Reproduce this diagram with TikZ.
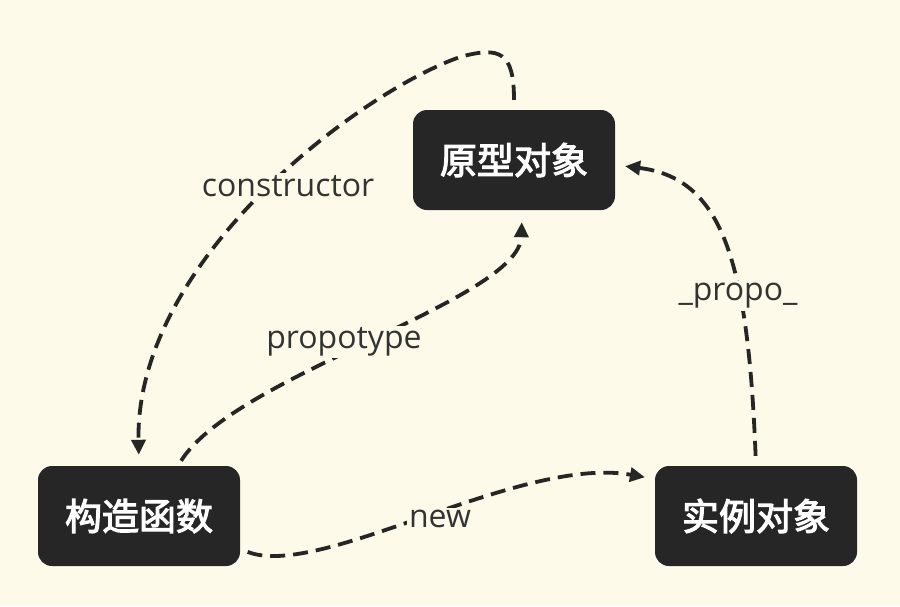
\documentclass[tikz,border=0pt]{standalone}
\usepackage{fontspec}
\setmainfont{Open Sans}
\newfontfamily\cjk{Noto Sans CJK SC}[FakeBold=3]
\usetikzlibrary{arrows.meta}
\definecolor{bgc}{HTML}{FDFAE9}
\definecolor{ink}{HTML}{262626}
\definecolor{lab}{HTML}{333333}
\begin{document}
\begin{tikzpicture}[x=1pt,y=-1pt,
 box/.style={fill=ink, rounded corners=14pt, minimum width=202pt, minimum height=100pt, text=white, font=\cjk\fontsize{37}{40}\selectfont, inner sep=0pt},
 link/.style={draw=ink, line width=3.8pt, dash pattern=on 15pt off 8pt, -{Triangle[length=15pt,width=14pt]}},
 lbl/.style={fill=bgc, text=lab, font=\fontsize{32}{36}\selectfont, inner sep=2pt}]
\fill[bgc] (0,0) rectangle (900,606);
\useasboundingbox (0,0) rectangle (900,606);
\node[box] (proto) at (514,160) {原型对象};
\node[box] (ctor) at (139,516) {构造函数};
\node[box] (inst) at (756,516) {实例对象};
\draw[link, shorten <=10pt, shorten >=11pt] (proto.north) .. controls (514,52) and (500,46) .. (460,57) .. controls (360,92) and (135,260) .. (ctor.north);
\draw[link, shorten <=6pt, shorten >=12pt] ([xshift=39pt]ctor.north) .. controls (235,375) and (520,300) .. ([xshift=8pt]proto.south);
\draw[link, shorten <=8pt, shorten >=10pt] ([yshift=-33pt]ctor.east) .. controls (320,580) and (520,455) .. ([yshift=37pt]inst.west);
\draw[link, shorten <=10pt, shorten >=10pt] (inst.north) .. controls (748,260) and (722,178) .. ([yshift=-5pt]proto.east);
\node[lbl] (lc) at (288,186) {constructor};
\node[lbl] (lp) at (344,342) {propotype};
\node[lbl] (ln) at (440,519) {new};
\node[lbl] (lu) at (738,296) {\_propo\_};
\end{tikzpicture}
\end{document}
